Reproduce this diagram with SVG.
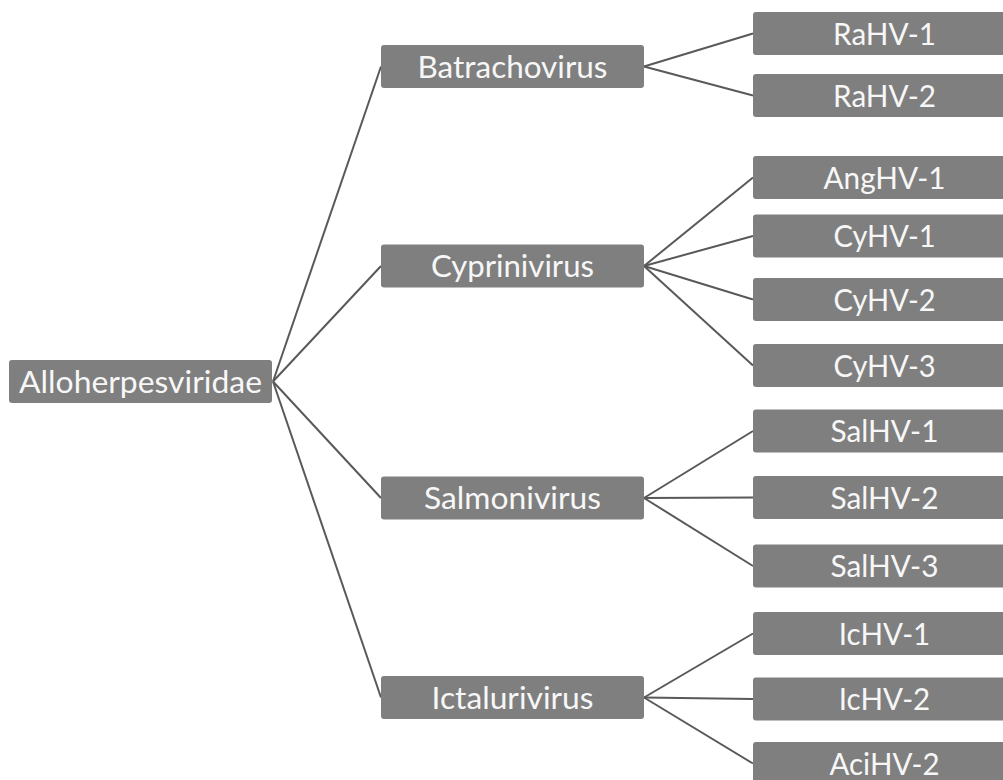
<svg xmlns="http://www.w3.org/2000/svg" width="1003" height="780" viewBox="0 0 1003 780">
<style>
.box{fill:#7f7f7f;}
.lbl{font-family:Lato,"Open Sans","Liberation Sans",sans-serif;font-size:31px;fill:#f7f7f7;text-anchor:middle;}
.edge{stroke:#595959;stroke-width:2;fill:none;}
</style>
<rect width="1003" height="780" fill="#ffffff"/>
<g id="connectors">
<line class="edge" x1="273" y1="381.5" x2="381" y2="66.5"/>
<line class="edge" x1="273" y1="381.5" x2="381" y2="266"/>
<line class="edge" x1="273" y1="381.5" x2="381" y2="498"/>
<line class="edge" x1="273" y1="381.5" x2="381" y2="697.5"/>
<line class="edge" x1="644" y1="66.5" x2="753" y2="33.5"/>
<line class="edge" x1="644" y1="66.5" x2="753" y2="95.5"/>
<line class="edge" x1="644" y1="266" x2="753" y2="177.5"/>
<line class="edge" x1="644" y1="266" x2="753" y2="236"/>
<line class="edge" x1="644" y1="266" x2="753" y2="299.5"/>
<line class="edge" x1="644" y1="266" x2="753" y2="365.5"/>
<line class="edge" x1="644" y1="498" x2="753" y2="431"/>
<line class="edge" x1="644" y1="498" x2="753" y2="497.5"/>
<line class="edge" x1="644" y1="498" x2="753" y2="566"/>
<line class="edge" x1="644" y1="697.5" x2="753" y2="633.5"/>
<line class="edge" x1="644" y1="697.5" x2="753" y2="699"/>
<line class="edge" x1="644" y1="697.5" x2="753" y2="763.5"/>
</g>
<g id="n-root"><rect class="box" x="9" y="360" width="263" height="43" rx="3"/><text class="lbl" x="140.5" y="392.5" textLength="243" lengthAdjust="spacingAndGlyphs">Alloherpesviridae</text></g>
<g id="n-batrachovirus"><rect class="box" x="381" y="45" width="263" height="43" rx="3"/><text class="lbl" x="512.5" y="77.5" textLength="190" lengthAdjust="spacingAndGlyphs">Batrachovirus</text></g>
<g id="n-cyprinivirus"><rect class="box" x="381" y="244.5" width="263" height="43" rx="3"/><text class="lbl" x="512.5" y="277" textLength="163" lengthAdjust="spacingAndGlyphs">Cyprinivirus</text></g>
<g id="n-salmonivirus"><rect class="box" x="381" y="476.5" width="263" height="43" rx="3"/><text class="lbl" x="512.5" y="509" textLength="177" lengthAdjust="spacingAndGlyphs">Salmonivirus</text></g>
<g id="n-ictalurivirus"><rect class="box" x="381" y="676" width="263" height="43" rx="3"/><text class="lbl" x="512.5" y="708.5" textLength="162" lengthAdjust="spacingAndGlyphs">Ictalurivirus</text></g>
<g id="n-rahv1"><rect class="box" x="753" y="12" width="263" height="43" rx="3"/><text class="lbl" x="884.5" y="44.5" textLength="103" lengthAdjust="spacingAndGlyphs">RaHV-1</text></g>
<g id="n-rahv2"><rect class="box" x="753" y="74" width="263" height="43" rx="3"/><text class="lbl" x="884.5" y="106.5" textLength="103" lengthAdjust="spacingAndGlyphs">RaHV-2</text></g>
<g id="n-anghv1"><rect class="box" x="753" y="156" width="263" height="43" rx="3"/><text class="lbl" x="884.5" y="188.5" textLength="122" lengthAdjust="spacingAndGlyphs">AngHV-1</text></g>
<g id="n-cyhv1"><rect class="box" x="753" y="214.5" width="263" height="43" rx="3"/><text class="lbl" x="884.5" y="247" textLength="102" lengthAdjust="spacingAndGlyphs">CyHV-1</text></g>
<g id="n-cyhv2"><rect class="box" x="753" y="278" width="263" height="43" rx="3"/><text class="lbl" x="884.5" y="310.5" textLength="102" lengthAdjust="spacingAndGlyphs">CyHV-2</text></g>
<g id="n-cyhv3"><rect class="box" x="753" y="344" width="263" height="43" rx="3"/><text class="lbl" x="884.5" y="376.5" textLength="102" lengthAdjust="spacingAndGlyphs">CyHV-3</text></g>
<g id="n-salhv1"><rect class="box" x="753" y="409.5" width="263" height="43" rx="3"/><text class="lbl" x="884.5" y="442" textLength="108" lengthAdjust="spacingAndGlyphs">SalHV-1</text></g>
<g id="n-salhv2"><rect class="box" x="753" y="476" width="263" height="43" rx="3"/><text class="lbl" x="884.5" y="508.5" textLength="108" lengthAdjust="spacingAndGlyphs">SalHV-2</text></g>
<g id="n-salhv3"><rect class="box" x="753" y="544.5" width="263" height="43" rx="3"/><text class="lbl" x="884.5" y="577" textLength="108" lengthAdjust="spacingAndGlyphs">SalHV-3</text></g>
<g id="n-ichv1"><rect class="box" x="753" y="612" width="263" height="43" rx="3"/><text class="lbl" x="884.5" y="644.5" textLength="91.5" lengthAdjust="spacingAndGlyphs">IcHV-1</text></g>
<g id="n-ichv2"><rect class="box" x="753" y="677.5" width="263" height="43" rx="3"/><text class="lbl" x="884.5" y="710" textLength="91.5" lengthAdjust="spacingAndGlyphs">IcHV-2</text></g>
<g id="n-acihv2"><rect class="box" x="753" y="742" width="263" height="43" rx="3"/><text class="lbl" x="884.5" y="774.5" textLength="110" lengthAdjust="spacingAndGlyphs">AciHV-2</text></g>
</svg>
